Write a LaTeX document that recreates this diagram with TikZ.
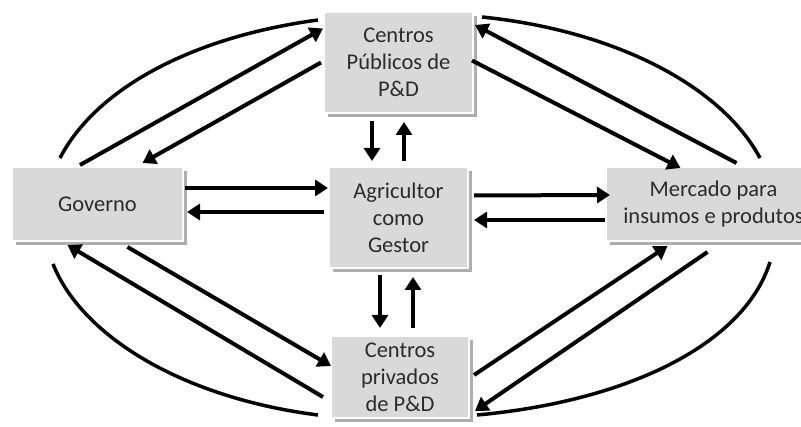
\documentclass[tikz,border=0pt]{standalone}
\usepackage{fontspec}
\setmainfont{Carlito}
\usetikzlibrary{arrows.meta,calc,shadows}
\definecolor{boxgray}{HTML}{D9D9D9}
\definecolor{txtgray}{HTML}{2B2B2B}
\begin{document}
\begin{tikzpicture}[x=1pt,y=-1pt,
  box/.style={draw=white,line width=2pt,fill=boxgray,inner sep=0pt,align=center,
    text=txtgray,font=\fontsize{22.5}{27}\selectfont,
    drop shadow={shadow xshift=4pt,shadow yshift=-4pt,fill=black!45,opacity=0.7}},
  conn/.style={line width=4pt,-{Triangle[length=13pt,width=16pt]}},
  arcline/.style={line width=3.5pt}]
\useasboundingbox (0,0) rectangle (801,427);
\node[box,minimum width=149pt,minimum height=101pt] (pub) at (398.5,62.5) {Centros\\Públicos de\\P\&D};
\node[box,minimum width=171pt,minimum height=74pt] (gov) at (97.5,204) {Governo};
\node[box,minimum width=139pt,minimum height=101pt] (agri) at (398.5,217.5) {Agricultor\\como\\Gestor};
\node[box,minimum width=215pt,minimum height=74pt] (merc) at (713.5,204) {Mercado para\\insumos e produtos};
\node[box,minimum width=138pt,minimum height=82pt] (priv) at (400,377) {Centros\\privados\\de P\&D};
% ellipse arcs
\draw[arcline] ($(gov.north)+(-37.5,-8)$) .. controls +(36.6,-70.5) and +(-124,16.6) .. ($(pub.west)+(-5,-42.5)$);
\draw[arcline] ($(pub.east)+(8,-45.5)$) .. controls +(133.1,13.6) and +(-38.7,-72.1) .. ($(merc.north)+(46.5,-8)$);
\draw[arcline] ($(gov.south)+(-44.5,22)$) .. controls +(29.4,73.5) and +(-133.5,-16.9) .. ($(priv.west)+(-12,38)$);
\draw[arcline] ($(merc.south)+(56.5,20)$) .. controls +(-25.6,81.9) and +(151.2,-13.8) .. ($(priv.east)+(7,38)$);
% diagonal arrows
\draw[conn] ($(gov.north)+(-17.5,-1)$) -- ($(pub.west)+(0,-34)$);
\draw[conn] ($(pub.west)+(-2,0)$) -- ($(gov.north)+(45,-3)$);
\draw[conn] ($(pub.east)+(-2,-2)$) -- ($(merc.north)+(-33,2)$);
\draw[conn] ($(merc.north)+(23,-3)$) -- ($(pub.east)+(1,-37.5)$);
\draw[conn] ($(gov.south)+(30,5)$) -- ($(priv.west)+(1,-11)$);
\draw[conn] ($(priv.west)+(-7,20)$) -- ($(gov.south)+(-30,3)$);
\draw[conn] ($(priv.east)+(4,-2)$) -- ($(merc.south)+(-46,4)$);
\draw[conn] ($(merc.south)+(-6,10)$) -- ($(priv.east)+(5,34)$);
% horizontal arrows
\draw[conn] ($(gov.east)+(1,-16)$) -- ($(agri.west)+(0,-29.5)$);
\draw[conn] ($(agri.west)+(-4,-5.5)$) -- ($(gov.east)+(3,8)$);
\draw[conn] ($(agri.east)+(5,-22)$) -- ($(merc.west)+(5,-9)$);
\draw[conn] ($(merc.west)+(0,16)$) -- ($(agri.east)+(5,2.5)$);
% vertical arrows
\draw[conn] ($(pub.south)+(-26.5,7)$) -- ($(agri.north)+(-26.5,-5)$);
\draw[conn] ($(agri.north)+(5.5,-5)$) -- ($(pub.south)+(5.5,8)$);
\draw[conn] ($(agri.south)+(-18.5,6)$) -- ($(priv.north)+(-20,-7)$);
\draw[conn] ($(priv.north)+(13,-7)$) -- ($(agri.south)+(14.5,8)$);
\end{tikzpicture}
\end{document}
